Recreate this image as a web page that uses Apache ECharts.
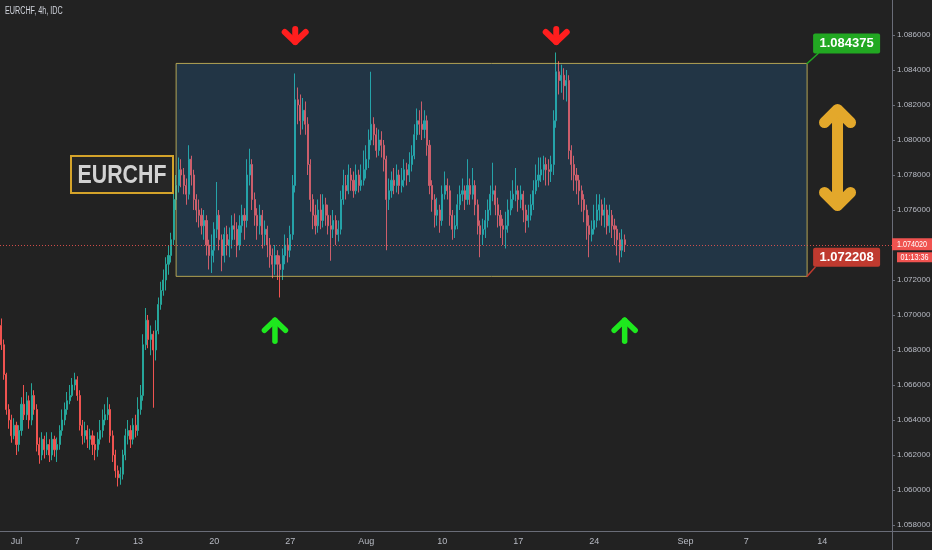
<!DOCTYPE html>
<html><head><meta charset="utf-8">
<script src="https://cdn.jsdelivr.net/npm/echarts@6/dist/echarts.min.js"></script>
<style>html,body{margin:0;padding:0;background:#222222;}#c{width:932px;height:550px;}</style>
</head><body><div id="c"></div>
<script>
// ---------- DATA ----------
const symbolTitle = 'EURCHF, 4h, IDC';
const symbolName = 'EURCHF';
const opens = [
1.0694,1.0683,1.0666,1.0646,1.0640,1.0631,
1.0637,1.0626,1.0634,1.0649,1.0643,1.0651,
1.0640,1.0654,1.0646,1.0626,1.0620,1.0629,
1.0623,1.0626,1.0620,1.0629,1.0623,1.0626,
1.0634,1.0640,1.0646,1.0651,1.0654,1.0660,
1.0663,1.0654,1.0637,1.0631,1.0634,1.0629,
1.0631,1.0626,1.0623,1.0629,1.0634,1.0640,
1.0643,1.0646,1.0631,1.0620,1.0611,1.0607,
1.0609,1.0620,1.0631,1.0634,1.0629,1.0637,
1.0634,1.0646,1.0654,1.0683,1.0697,1.0686,
1.0689,1.0680,1.0691,1.0706,1.0714,1.0720,
1.0729,1.0734,1.0743,1.0766,1.0774,1.0783,
1.0780,1.0774,1.0769,1.0789,1.0780,1.0766,
1.0760,1.0757,1.0751,1.0754,1.0740,1.0734,
1.0737,1.0749,1.0757,1.0743,1.0734,1.0746,
1.0740,1.0743,1.0751,1.0749,1.0740,1.0751,
1.0757,1.0754,1.0780,1.0786,1.0766,1.0757,
1.0751,1.0757,1.0746,1.0749,1.0740,1.0734,
1.0729,1.0734,1.0729,1.0726,1.0734,1.0740,
1.0737,1.0746,1.0774,1.0823,1.0820,1.0811,
1.0817,1.0809,1.0786,1.0766,1.0757,1.0751,
1.0760,1.0754,1.0763,1.0757,1.0751,1.0749,
1.0754,1.0746,1.0749,1.0766,1.0774,1.0771,
1.0780,1.0777,1.0771,1.0780,1.0774,1.0777,
1.0783,1.0789,1.0800,1.0809,1.0803,1.0794,
1.0800,1.0797,1.0789,1.0766,1.0771,1.0777,
1.0774,1.0780,1.0774,1.0777,1.0783,1.0780,
1.0786,1.0791,1.0803,1.0811,1.0809,1.0806,
1.0811,1.0797,1.0774,1.0766,1.0757,1.0760,
1.0754,1.0769,1.0774,1.0771,1.0757,1.0749,
1.0751,1.0763,1.0769,1.0771,1.0766,1.0774,
1.0769,1.0774,1.0763,1.0751,1.0746,1.0749,
1.0754,1.0760,1.0769,1.0771,1.0763,1.0757,
1.0751,1.0749,1.0751,1.0760,1.0766,1.0769,
1.0771,1.0766,1.0769,1.0760,1.0754,1.0757,
1.0763,1.0771,1.0777,1.0780,1.0783,1.0786,
1.0783,1.0782,1.0786,1.0811,1.0839,1.0834,
1.0837,1.0831,1.0834,1.0794,1.0786,1.0780,
1.0777,1.0771,1.0766,1.0760,1.0751,1.0746,
1.0749,1.0754,1.0760,1.0763,1.0757,1.0760,
1.0751,1.0757,1.0751,1.0749,1.0743,1.0737,
1.0743];
const closes = [
1.0683,1.0666,1.0646,1.0640,1.0631,1.0637,
1.0626,1.0634,1.0649,1.0643,1.0651,1.0640,
1.0654,1.0646,1.0626,1.0620,1.0629,1.0623,
1.0626,1.0620,1.0629,1.0623,1.0626,1.0634,
1.0640,1.0646,1.0651,1.0654,1.0660,1.0663,
1.0654,1.0637,1.0631,1.0634,1.0629,1.0631,
1.0626,1.0623,1.0629,1.0634,1.0640,1.0643,
1.0646,1.0631,1.0620,1.0611,1.0607,1.0609,
1.0620,1.0631,1.0634,1.0629,1.0637,1.0634,
1.0646,1.0654,1.0683,1.0697,1.0686,1.0689,
1.0680,1.0691,1.0706,1.0714,1.0720,1.0729,
1.0734,1.0743,1.0766,1.0774,1.0783,1.0780,
1.0774,1.0769,1.0789,1.0780,1.0766,1.0760,
1.0757,1.0751,1.0754,1.0740,1.0734,1.0737,
1.0749,1.0757,1.0743,1.0734,1.0746,1.0740,
1.0743,1.0751,1.0749,1.0740,1.0751,1.0757,
1.0754,1.0780,1.0786,1.0766,1.0757,1.0751,
1.0757,1.0746,1.0749,1.0740,1.0734,1.0729,
1.0734,1.0729,1.0726,1.0734,1.0740,1.0737,
1.0746,1.0774,1.0823,1.0820,1.0811,1.0817,
1.0809,1.0786,1.0766,1.0757,1.0751,1.0760,
1.0754,1.0763,1.0757,1.0751,1.0749,1.0754,
1.0746,1.0749,1.0766,1.0774,1.0771,1.0780,
1.0777,1.0771,1.0780,1.0774,1.0777,1.0783,
1.0789,1.0800,1.0809,1.0803,1.0794,1.0800,
1.0797,1.0789,1.0766,1.0771,1.0777,1.0774,
1.0780,1.0774,1.0777,1.0783,1.0780,1.0786,
1.0791,1.0803,1.0811,1.0809,1.0806,1.0811,
1.0797,1.0774,1.0766,1.0757,1.0760,1.0754,
1.0769,1.0774,1.0771,1.0757,1.0749,1.0751,
1.0763,1.0769,1.0771,1.0766,1.0774,1.0769,
1.0774,1.0763,1.0751,1.0746,1.0749,1.0754,
1.0760,1.0769,1.0771,1.0763,1.0757,1.0751,
1.0749,1.0751,1.0760,1.0766,1.0769,1.0771,
1.0766,1.0769,1.0760,1.0754,1.0757,1.0763,
1.0771,1.0777,1.0780,1.0783,1.0786,1.0783,
1.0782,1.0786,1.0811,1.0839,1.0834,1.0837,
1.0831,1.0834,1.0794,1.0786,1.0780,1.0777,
1.0771,1.0766,1.0760,1.0751,1.0746,1.0749,
1.0754,1.0760,1.0763,1.0757,1.0760,1.0751,
1.0757,1.0751,1.0749,1.0743,1.0737,1.0743,
1.07402];
const highs = [
1.0698,1.0686,1.0667,1.0649,1.0643,1.0641,
1.0639,1.0637,1.0653,1.0660,1.0656,1.0654,
1.0661,1.0657,1.0649,1.0630,1.0633,1.0631,
1.0633,1.0629,1.0633,1.0631,1.0630,1.0637,
1.0646,1.0650,1.0656,1.0660,1.0664,1.0667,
1.0665,1.0657,1.0640,1.0639,1.0637,1.0635,
1.0634,1.0631,1.0633,1.0640,1.0646,1.0649,
1.0653,1.0649,1.0634,1.0623,1.0614,1.0613,
1.0623,1.0635,1.0640,1.0637,1.0641,1.0643,
1.0653,1.0660,1.0689,1.0704,1.0700,1.0694,
1.0691,1.0697,1.0710,1.0719,1.0726,1.0733,
1.0740,1.0747,1.0770,1.0780,1.0790,1.0789,
1.0784,1.0778,1.0797,1.0791,1.0783,1.0769,
1.0766,1.0761,1.0760,1.0757,1.0743,1.0746,
1.0753,1.0776,1.0760,1.0746,1.0750,1.0751,
1.0750,1.0757,1.0758,1.0753,1.0757,1.0763,
1.0761,1.0789,1.0795,1.0789,1.0770,1.0761,
1.0763,1.0760,1.0754,1.0751,1.0744,1.0738,
1.0740,1.0737,1.0734,1.0738,1.0746,1.0744,
1.0751,1.0780,1.0838,1.0830,1.0826,1.0824,
1.0822,1.0813,1.0789,1.0769,1.0763,1.0766,
1.0769,1.0769,1.0767,1.0763,1.0757,1.0760,
1.0757,1.0754,1.0771,1.0783,1.0780,1.0786,
1.0784,1.0782,1.0786,1.0783,1.0786,1.0794,
1.0797,1.0806,1.0839,1.0813,1.0807,1.0806,
1.0805,1.0800,1.0791,1.0778,1.0782,1.0784,
1.0786,1.0783,1.0784,1.0789,1.0787,1.0793,
1.0797,1.0809,1.0818,1.0817,1.0822,1.0817,
1.0814,1.0800,1.0777,1.0769,1.0767,1.0763,
1.0774,1.0782,1.0778,1.0774,1.0760,1.0757,
1.0769,1.0774,1.0778,1.0774,1.0789,1.0778,
1.0784,1.0777,1.0766,1.0754,1.0755,1.0760,
1.0766,1.0774,1.0787,1.0774,1.0767,1.0760,
1.0755,1.0759,1.0766,1.0771,1.0777,1.0784,
1.0774,1.0774,1.0771,1.0763,1.0763,1.0769,
1.0777,1.0786,1.0790,1.0790,1.0791,1.0790,
1.0789,1.0791,1.0817,1.0850,1.0845,1.0843,
1.0841,1.0840,1.0837,1.0797,1.0791,1.0784,
1.0780,1.0774,1.0769,1.0763,1.0757,1.0754,
1.0763,1.0769,1.0769,1.0766,1.0767,1.0763,
1.0763,1.0760,1.0755,1.0751,1.0747,1.0749,
1.0746];
const lows = [
1.0680,1.0663,1.0643,1.0635,1.0627,1.0629,
1.0620,1.0622,1.0631,1.0640,1.0640,1.0635,
1.0637,1.0643,1.0622,1.0615,1.0617,1.0618,
1.0620,1.0616,1.0617,1.0619,1.0616,1.0623,
1.0631,1.0637,1.0643,1.0649,1.0653,1.0657,
1.0651,1.0634,1.0626,1.0627,1.0624,1.0623,
1.0620,1.0617,1.0619,1.0626,1.0630,1.0637,
1.0640,1.0627,1.0616,1.0607,1.0602,1.0603,
1.0606,1.0617,1.0626,1.0624,1.0626,1.0630,
1.0631,1.0643,1.0651,1.0680,1.0681,1.0677,
1.0647,1.0674,1.0689,1.0703,1.0711,1.0714,
1.0723,1.0730,1.0740,1.0760,1.0770,1.0773,
1.0769,1.0763,1.0766,1.0774,1.0760,1.0753,
1.0750,1.0746,1.0743,1.0734,1.0726,1.0724,
1.0730,1.0744,1.0737,1.0725,1.0730,1.0734,
1.0733,1.0738,1.0743,1.0733,1.0737,1.0747,
1.0743,1.0750,1.0774,1.0760,1.0751,1.0743,
1.0746,1.0738,1.0740,1.0733,1.0727,1.0721,
1.0723,1.0720,1.0710,1.0720,1.0729,1.0730,
1.0733,1.0743,1.0770,1.0809,1.0803,1.0806,
1.0803,1.0780,1.0759,1.0749,1.0746,1.0747,
1.0749,1.0750,1.0751,1.0746,1.0731,1.0744,
1.0740,1.0742,1.0746,1.0763,1.0766,1.0769,
1.0771,1.0767,1.0769,1.0770,1.0771,1.0774,
1.0778,1.0784,1.0797,1.0797,1.0790,1.0791,
1.0790,1.0782,1.0737,1.0760,1.0767,1.0769,
1.0770,1.0769,1.0770,1.0773,1.0774,1.0776,
1.0782,1.0789,1.0800,1.0803,1.0800,1.0801,
1.0791,1.0769,1.0759,1.0750,1.0751,1.0747,
1.0751,1.0766,1.0766,1.0751,1.0743,1.0744,
1.0749,1.0760,1.0765,1.0760,1.0763,1.0763,
1.0766,1.0757,1.0746,1.0733,1.0740,1.0744,
1.0750,1.0757,1.0765,1.0757,1.0750,1.0744,
1.0740,1.0738,1.0747,1.0757,1.0761,1.0765,
1.0759,1.0761,1.0753,1.0747,1.0750,1.0754,
1.0760,1.0769,1.0773,1.0776,1.0777,1.0774,
1.0774,1.0776,1.0780,1.0807,1.0826,1.0827,
1.0823,1.0822,1.0789,1.0777,1.0771,1.0769,
1.0763,1.0759,1.0753,1.0743,1.0733,1.0742,
1.0746,1.0750,1.0754,1.0751,1.0750,1.0746,
1.0747,1.0744,1.0740,1.0734,1.0730,1.0733,
1.0736];
const tickDates = ['2020-07-01','2020-07-07','2020-07-13','2020-07-20','2020-07-27','2020-08-03','2020-08-10','2020-08-17','2020-08-24','2020-09-01','2020-09-07','2020-09-14'];
const tickTexts = ['Jul','7','13','20','27','Aug','10','17','24','Sep','7','14'];
const priceMin = 1.056571, priceMax = 1.088, priceStep = 0.002;
const lastPrice = 1.07402;
const lastPriceText = '1.074020';
const countdownText = '01:13:36';
const rangeTop = 1.084375, rangeBottom = 1.072208;
const rangeFrom = '2020-07-15 12', rangeTo = '2020-09-11 00';
const downArrowAt = [['2020-07-27 08', 1.08597], ['2020-08-19 12', 1.08597]];
const upArrowAt = [['2020-07-24 00', 1.06910], ['2020-08-26 00', 1.06910]];
const rangeArrowAt = ['2020-09-15 00', 1.0790];

// ---------- STYLE ----------
const BG = '#222222', AX = '#6a6d78', TXT = '#b8bbc4';
const UP = '#26a69a', DOWN = '#ef5350';
const FONT = '"Liberation Sans",Arial,sans-serif';

// 4h bar slots, trading days only
function buildSlots(n){
  const out=[]; const d=new Date(Date.UTC(2020,5,30));
  while(out.length<n){
    const wd=d.getUTCDay();
    if(wd!==0&&wd!==6){ for(let h=0;h<24&&out.length<n;h+=4){ out.push(d.toISOString().slice(0,10)+' '+String(h).padStart(2,'0')); } }
    d.setUTCDate(d.getUTCDate()+1);
  }
  return out;
}
const slots = buildSlots(352);
const labelAt = {}; tickDates.forEach((d,k)=>{labelAt[d+' 00']=tickTexts[k];});
const isTick = (i,v)=>labelAt[v]!==undefined;
const candleData = closes.map((c,i)=>[opens[i], c, lows[i], highs[i]]);

const chart = echarts.init(document.getElementById('c'));
chart.setOption({
  backgroundColor: BG, animation: false,
  grid: {left:0, right:40, top:0, bottom:0, outerBoundsMode:'none', containLabel:false},
  xAxis: {type:'category', data:slots, boundaryGap:true, offset:-19,
    axisLine:{lineStyle:{color:AX}},
    axisTick:{interval:isTick, alignWithLabel:true, length:3, lineStyle:{color:AX}},
    axisLabel:{interval:isTick, formatter:v=>labelAt[v]||'', color:TXT, fontSize:9, fontFamily:FONT, margin:6},
    splitLine:{show:false}},
  yAxis: {type:'value', position:'right', min:priceMin, max:priceMax, minInterval:priceStep, maxInterval:priceStep,
    axisLine:{show:true, lineStyle:{color:AX}},
    axisTick:{show:true, length:3, lineStyle:{color:AX}},
    axisLabel:{formatter:v=>v.toFixed(6), color:TXT, fontSize:8, fontFamily:FONT, margin:5, showMaxLabel:false, showMinLabel:false},
    splitLine:{show:false}},
  series: [{
    type:'candlestick', data:candleData, barWidth:1.6,
    itemStyle:{color:UP, color0:DOWN, borderColor:UP, borderColor0:DOWN, borderWidth:1},
    markArea:{silent:true, z:3,
      itemStyle:{color:'rgba(33,150,243,0.17)', borderColor:'rgba(214,192,92,0.8)', borderWidth:1},
      data:[[{xAxis:rangeFrom, yAxis:rangeBottom},{xAxis:rangeTo, yAxis:rangeTop}]]}
  }]
});

const px = (cat, v) => chart.convertToPixel({seriesIndex:0}, [cat, v]);
const g = [];
function poly(points, color, w, z){ g.push({type:'polyline', z:z||100, shape:{points}, style:{stroke:color, lineWidth:w, lineCap:'round', lineJoin:'round', fill:null}}); }
function txt(x,y,text,opts,sx){ g.push({type:'text', z:102, x, y, scaleX:sx||1, style:Object.assign({text, align:'center', verticalAlign:'middle', textAlign:'center', textVerticalAlign:'middle'}, opts)}); }

// last price dotted line
(()=>{ const [,y]=px(slots[0], lastPrice); const [xr]=px(slots[slots.length-1], lastPrice);
  g.push({type:'line', z:60, shape:{x1:0, y1:Math.round(y)+0.5, x2:892, y2:Math.round(y)+0.5}, style:{stroke:'rgba(239,83,80,0.85)', lineWidth:1, lineDash:[1,2]}}); })();

// title
g.push({type:'text', z:102, x:5, y:6, scaleX:0.72, style:{text:symbolTitle, fill:'#d1d4dc', fontSize:10, fontFamily:FONT}});
// symbol box
g.push({type:'rect', z:101, shape:{x:71, y:156, width:102, height:37}, style:{fill:'#262626', stroke:'#d4a32a', lineWidth:2}});
txt(122, 175.5, symbolName, {fill:'#d2d2d2', fontSize:26, fontWeight:'bold', fontFamily:FONT}, 0.82);

// down arrows
downArrowAt.forEach(([c,v])=>{ const [x,y]=px(c,v);
  poly([[x,y-6.5],[x,y+6.5]], '#ff1e1e', 6); poly([[x-10.5,y-3.5],[x,y+6.5],[x+10.5,y-3.5]], '#ff1e1e', 6); });
// up arrows
upArrowAt.forEach(([c,v])=>{ const [x,y]=px(c,v);
  poly([[x,y+10.5],[x,y-10.5]], '#1ee81e', 5.5); poly([[x-10.5,y-0.5],[x,y-10.5],[x+10.5,y-0.5]], '#1ee81e', 5.5); });
// range double arrow
(()=>{ const [x,y]=px(rangeArrowAt[0], rangeArrowAt[1]); const col='#e3a82b';
  poly([[x,y-46],[x,y+46]], col, 11); poly([[x-13,y-35],[x,y-48],[x+13,y-35]], col, 11); poly([[x-13,y+35],[x,y+48],[x+13,y+35]], col, 11); })();

// range price tags
(()=>{ const [x,y]=px(rangeTo, rangeTop); const col='#22a822';
  poly([[x,y],[x+11,y-10]], col, 1.5, 99);
  g.push({type:'rect', z:101, shape:{x:x+6, y:y-30, width:67, height:20, r:2}, style:{fill:col}});
  txt(x+39.5, y-20, rangeTop.toFixed(6), {fill:'#ffffff', fontSize:13, fontWeight:'bold', fontFamily:FONT}); })();
(()=>{ const [x,y]=px(rangeTo, rangeBottom); const col='#bf3a2f';
  poly([[x,y],[x+8,y-9]], col, 1.5, 99);
  g.push({type:'rect', z:101, shape:{x:x+6, y:y-28.5, width:67, height:19, r:2}, style:{fill:col}});
  txt(x+39.5, y-19, rangeBottom.toFixed(6), {fill:'#ffffff', fontSize:13, fontWeight:'bold', fontFamily:FONT}); })();

// last price tag on axis
(()=>{ const [,y]=px(slots[0], lastPrice);
  g.push({type:'rect', z:101, shape:{x:892, y:y-6.3, width:40, height:12}, style:{fill:'#f05350'}});
  txt(912, y-0.3, lastPriceText, {fill:'#ffffff', fontSize:9, fontFamily:FONT}, 0.8);
  g.push({type:'rect', z:101, shape:{x:897, y:y+7.7, width:35, height:10}, style:{fill:'#f05350'}});
  txt(914.5, y+12.7, countdownText, {fill:'#ffffff', fontSize:9, fontFamily:FONT}, 0.8); })();

// axis line extension to right edge
g.push({type:'line', z:50, shape:{x1:892, y1:531.5, x2:932, y2:531.5}, style:{stroke:AX, lineWidth:1}});

chart.setOption({graphic:g});
</script>
</body></html>
